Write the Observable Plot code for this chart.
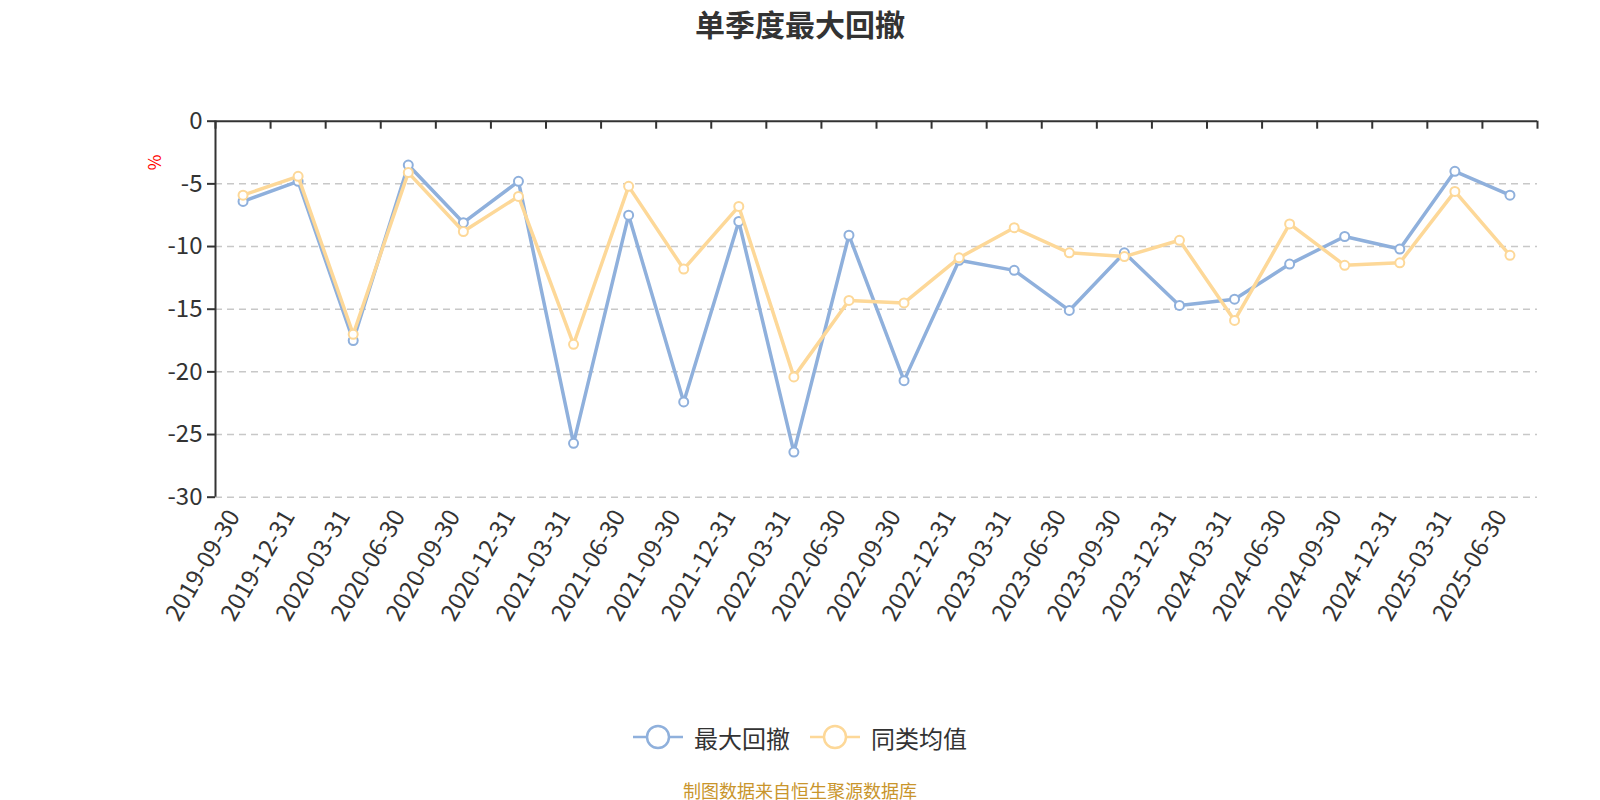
<!DOCTYPE html>
<html>
<head>
<meta charset="utf-8">
<script src="https://cdn.jsdelivr.net/npm/d3@7"></script>
<script src="https://cdn.jsdelivr.net/npm/@observablehq/plot@0.6"></script>
<style>
  html, body { margin: 0; padding: 0; background: #fff; }
  body { width: 1600px; height: 800px; position: relative; overflow: hidden; font-family: "Noto Sans CJK SC", "Noto Sans", sans-serif; }
  #title { position: absolute; left: 0; top: 0; width: 1600px; height: 46px; line-height: 46px; text-align: center; font-size: 30px; font-weight: bold; color: #333; }
  #chart { position: absolute; left: 0; top: 50px; }
  #legend { position: absolute; left: 0; top: 712px; width: 1600px; height: 50px; display: flex; justify-content: center; align-items: center; gap: 20px; font-size: 24px; color: #333; }
  .item { display: flex; align-items: center; gap: 11px; }
  #caption { position: absolute; left: 0; top: 776px; width: 1600px; height: 28px; line-height: 28px; text-align: center; font-size: 18px; color: #c9952c; }
</style>
</head>
<body>
<div id="title">单季度最大回撤</div>
<div id="chart"></div>
<div id="legend"></div>
<div id="caption">制图数据来自恒生聚源数据库</div>
<script>
const dates = ["2019-09-30","2019-12-31","2020-03-31","2020-06-30","2020-09-30","2020-12-31","2021-03-31","2021-06-30","2021-09-30","2021-12-31","2022-03-31","2022-06-30","2022-09-30","2022-12-31","2023-03-31","2023-06-30","2023-09-30","2023-12-31","2024-03-31","2024-06-30","2024-09-30","2024-12-31","2025-03-31","2025-06-30"];
const maxDrawdown = [-6.4,-4.8,-17.5,-3.5,-8.1,-4.8,-25.7,-7.5,-22.4,-8.0,-26.4,-9.1,-20.7,-11.1,-11.9,-15.1,-10.5,-14.7,-14.2,-11.4,-9.2,-10.2,-4.0,-5.9];
const peerAvg = [-5.9,-4.4,-17.0,-4.1,-8.8,-6.0,-17.8,-5.2,-11.8,-6.8,-20.4,-14.3,-14.5,-10.9,-8.5,-10.5,-10.8,-9.5,-15.9,-8.2,-11.5,-11.3,-5.6,-10.7];
const yTicks = [0,-5,-10,-15,-20,-25,-30];
const seriesNames = ["最大回撤","同类均值"];
const seriesColors = ["#8fb0dc","#fdd898"];

const idx = d3.range(dates.length);
const blueData = idx.map(i => ({i, v: maxDrawdown[i]}));
const orangeData = idx.map(i => ({i, v: peerAvg[i]}));
const boundaries = d3.range(dates.length + 1).map(i => i - 0.5);

const chart = Plot.plot({
  width: 1600,
  height: 620,
  marginLeft: 215,
  marginRight: 63,
  marginTop: 70.7,
  marginBottom: 173.3,
  style: {fontFamily: "'Noto Sans CJK SC', 'Noto Sans', sans-serif", color: "#333", background: "#fff", overflow: "visible"},
  x: {type: "linear", domain: [-0.5, dates.length - 0.5]},
  y: {domain: [-30, 0]},
  marks: [
    Plot.ruleY(yTicks.filter(d => d !== 0), {stroke: "#c8c8c8", strokeWidth: 1.5, strokeDasharray: "7,5"}),
    Plot.axisY({ticks: yTicks, tickFormat: d => `${d}`, tickSize: 8, tickPadding: 5, fontSize: 24, stroke: "#333", strokeWidth: 2, fill: "#333", label: null}),
    Plot.axisX({ticks: idx, tickFormat: i => dates[i], tickRotate: -60, tickSize: 0, tickPadding: 15, dx: -9, fontSize: 24, fill: "#333", label: null}),
    Plot.ruleX([-0.5], {stroke: "#333", strokeWidth: 2}),
    Plot.ruleY([0], {stroke: "#333", strokeWidth: 2}),
    Plot.ruleX(boundaries, {y1: 0, y2: 0, insetBottom: -8, stroke: "#333", strokeWidth: 2}),
    Plot.text(["%"], {frameAnchor: "top-left", dx: -67, dy: 49, rotate: -90, fill: "red", fontSize: 17}),
    Plot.line(blueData, {x: "i", y: "v", stroke: seriesColors[0], strokeWidth: 3.5}),
    Plot.dot(blueData, {x: "i", y: "v", r: 4.5, fill: "#fff", stroke: seriesColors[0], strokeWidth: 2}),
    Plot.line(orangeData, {x: "i", y: "v", stroke: seriesColors[1], strokeWidth: 3.5}),
    Plot.dot(orangeData, {x: "i", y: "v", r: 4.5, fill: "#fff", stroke: seriesColors[1], strokeWidth: 2})
  ]
});
document.getElementById("chart").appendChild(chart);

const legend = document.getElementById("legend");
seriesNames.forEach((name, k) => {
  const item = document.createElement("div");
  item.className = "item";
  item.innerHTML = `<svg width="50" height="28"><line x1="0" y1="14" x2="50" y2="14" stroke="${seriesColors[k]}" stroke-width="2.5"/><circle cx="25" cy="14" r="11" fill="#fff" stroke="${seriesColors[k]}" stroke-width="2.5"/></svg><span>${name}</span>`;
  legend.appendChild(item);
});
</script>
</body>
</html>
